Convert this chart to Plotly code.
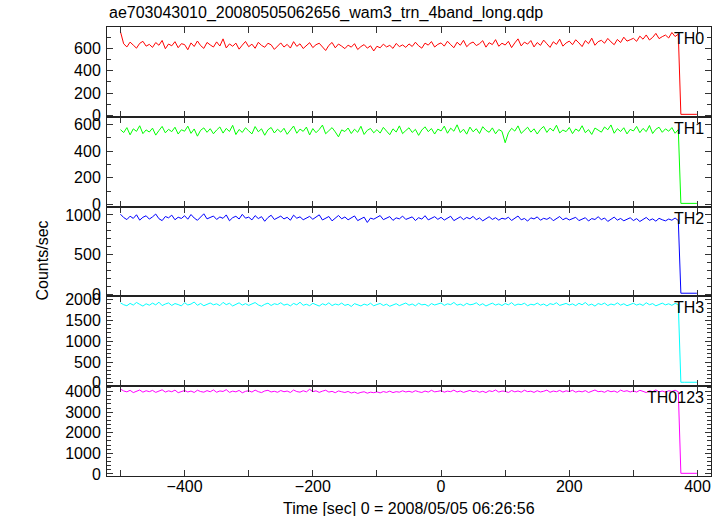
import plotly.graph_objects as go
from plotly.subplots import make_subplots

# ---- data -------------------------------------------------------------
TIME_LIVE = list(range(-500, 371, 5))          # 5-s bins while source active
TIME_TAIL = [374, 380, 390, 399]               # after the drop

TH0 = [748, 640, 612, 655, 628, 601, 644, 662, 619, 635,
       608, 651, 627, 670, 596, 638, 622, 659, 605, 641,
       633, 587, 648, 616, 665, 624, 599, 652, 630, 611,
       657, 620, 684, 603, 639, 618, 646, 592, 628, 661,
       614, 637, 600, 653, 626, 609, 645, 631, 590, 622,
       648, 611, 635, 602, 659, 617, 640, 598, 627, 650,
       606, 632, 645, 613, 580, 626, 652, 604, 638, 619,
       597, 628, 610, 641, 589, 615, 633, 601, 622, 576,
       618, 604, 637, 612, 626, 599, 643, 615, 630, 608,
       639, 616, 654, 622, 601, 646, 628, 660, 611, 635,
       648, 619, 663, 632, 605, 654, 627, 671, 614, 642,
       656, 624, 641, 668, 610, 650, 633, 677, 618, 645,
       629, 662, 606, 648, 684, 621, 655, 637, 669, 612,
       651, 626, 673, 640, 608, 658, 635, 681, 619, 647,
       664, 632, 676, 648, 615, 669, 641, 690, 627, 659,
       671, 645, 688, 657, 632, 679, 651, 699, 664, 676,
       689, 662, 708, 681, 719, 674, 697, 733, 686, 704,
       718, 692, 741, 705, 726]
TH0_TAIL = [10, 10, 10, 10]

TH1 = [560, 538, 575, 521, 566, 547, 589, 530, 558, 542,
       571, 519, 553, 584, 536, 562, 545, 578, 527, 559,
       548, 586, 532, 565, 511, 555, 573, 540, 567, 529,
       557, 580, 534, 569, 546, 592, 523, 561, 539, 574,
       551, 528, 583, 544, 566, 518, 559, 576, 535, 563,
       541, 570, 525, 556, 587, 533, 564, 547, 579, 520,
       568, 537, 561, 594, 529, 552, 575, 543, 506, 558,
       546, 572, 531, 563, 540, 585, 524, 555, 569, 536,
       560, 534, 577, 549, 522, 566, 542, 588, 530, 553,
       574, 539, 562, 517, 557, 581, 545, 568, 527, 564,
       550, 586, 533, 571, 548, 596, 538, 563, 526, 579,
       544, 567, 531, 582, 555, 540, 573, 529, 561, 547,
       462, 536, 570, 549, 588, 532, 559, 578, 541, 566,
       527, 562, 584, 539, 571, 550, 593, 535, 557, 545,
       576, 530, 565, 548, 589, 537, 560, 524, 572, 553,
       541, 580, 559, 595, 533, 567, 546, 574, 528, 562,
       550, 584, 537, 569, 545, 591, 531, 563, 578, 540,
       566, 548, 575, 533, 560]
TH1_TAIL = [8, 8, 8, 8]

TH2 = [1010, 968, 942, 985, 957, 1003, 935, 971, 990, 948,
       976, 1012, 953, 929, 981, 964, 998, 940, 972, 956,
       991, 947, 1006, 962, 933, 979, 1015, 951, 969, 987,
       944, 975, 958, 1001, 927, 966, 984, 949, 1008, 960,
       973, 938, 992, 955, 979, 921, 968, 997, 943, 963,
       986, 950, 971, 934, 998, 959, 977, 940, 965, 982,
       946, 969, 1002, 937, 958, 981, 926, 963, 994, 952,
       975, 939, 960, 988, 929, 954, 973, 906, 961, 947,
       968, 993, 941, 957, 980, 932, 964, 951, 986, 944,
       959, 976, 930, 966, 948, 991, 938, 962, 979, 945,
       971, 936, 958, 984, 929, 955, 977, 942, 969, 952,
       983, 940, 963, 926, 957, 978, 944, 966, 935, 959,
       948, 972, 931, 961, 987, 939, 956, 923, 964, 950,
       976, 934, 958, 945, 969, 928, 953, 981, 940, 962,
       937, 959, 971, 929, 950, 966, 924, 955, 943, 978,
       941, 962, 919, 951, 973, 935, 956, 927, 948, 965,
       930, 954, 918, 946, 969, 933, 951, 922, 958, 940,
       926, 949, 934, 962, 930]
TH2_TAIL = [12, 12, 12, 12]

TH3 = [1925, 1880, 1856, 1912, 1871, 1934, 1889, 1847, 1903, 1868,
       1918, 1876, 1941, 1859, 1897, 1923, 1862, 1908, 1884, 1851,
       1929, 1873, 1896, 1945, 1866, 1910, 1855, 1887, 1921, 1878,
       1902, 1858, 1937, 1881, 1915, 1849, 1893, 1926, 1870, 1906,
       1864, 1899, 1932, 1875, 1843, 1890, 1917, 1861, 1904, 1883,
       1928, 1869, 1895, 1852, 1911, 1877, 1939, 1866, 1892, 1857,
       1914, 1880, 1848, 1903, 1871, 1926, 1859, 1897, 1874, 1919,
       1863, 1889, 1838, 1906, 1872, 1850, 1895, 1867, 1916, 1854,
       1885, 1910, 1861, 1893, 1842, 1879, 1905, 1858, 1887, 1921,
       1868, 1898, 1853, 1915, 1876, 1890, 1845, 1907, 1873, 1896,
       1922, 1864, 1901, 1882, 1935, 1869, 1894, 1857, 1913, 1878,
       1891, 1926, 1866, 1904, 1849, 1886, 1918, 1871, 1899, 1860,
       1909, 1877, 1930, 1862, 1895, 1881, 1916, 1855, 1892, 1874,
       1920, 1868, 1897, 1852, 1906, 1884, 1927, 1863, 1889, 1911,
       1873, 1900, 1858, 1914, 1879, 1933, 1866, 1895, 1847, 1908,
       1882, 1919, 1860, 1897, 1874, 1925, 1869, 1903, 1856, 1890,
       1915, 1871, 1899, 1862, 1928, 1880, 1906, 1853, 1894, 1918,
       1876, 1902, 1865, 1911, 1884]
TH3_TAIL = [15, 15, 15, 15]

TH0123 = [4120, 4030, 3985, 4060, 3950, 4010, 4075, 3970, 4040, 3995,
          4055, 3960, 4020, 4085, 3975, 4035, 3990, 4070, 3945, 4015,
          4050, 3980, 4025, 3955, 4065, 4000, 3970, 4045, 3990, 4080,
          3965, 4030, 4005, 4090, 3960, 4020, 3985, 4055, 3940, 4010,
          4040, 3975, 4070, 3995, 3950, 4030, 4060, 3980, 4015, 3965,
          4050, 3990, 4025, 3955, 4075, 4000, 3970, 4040, 3985, 4110,
          3995, 4035, 3960, 4020, 4065, 3975, 4010, 3945, 4030, 3990,
          3955, 4005, 3930, 3975, 3910, 3960, 3990, 3920, 3970, 3945,
          3985, 3935, 4000, 3960, 4020, 3950, 3995, 3970, 4035, 3980,
          4015, 3965, 4040, 3990, 3955, 4025, 3975, 4060, 3985, 4010,
          4045, 3970, 4020, 3995, 4070, 3980, 4030, 3960, 4005, 4055,
          3990, 4035, 3965, 4015, 3950, 4040, 4000, 4075, 3975, 4025,
          4010, 3955, 4050, 3985, 4030, 3970, 4065, 3995, 4020, 3960,
          4040, 3980, 4015, 4070, 3965, 4025, 3990, 4055, 3975, 4035,
          4000, 4060, 3970, 4020, 3985, 4045, 3955, 4030, 4075, 3995,
          4015, 3965, 4050, 3990, 4025, 3960, 4070, 4005, 4040, 3980,
          4030, 3975, 4060, 4010, 3950, 4045, 3995, 4080, 3985, 4025,
          3970, 4040, 4005, 4065, 3990]
TH0123_TAIL = [30, 30, 30, 30]

NAMES = ["TH0", "TH1", "TH2", "TH3", "TH0123"]
COLORS = ["#ff0000", "#00ff00", "#0000ff", "#00ffff", "#ff00ff"]
SERIES = [(TH0, TH0_TAIL), (TH1, TH1_TAIL), (TH2, TH2_TAIL),
          (TH3, TH3_TAIL), (TH0123, TH0123_TAIL)]
Y_RANGES = [[-12, 790], [-16, 656], [-28, 1106], [-80, 2080], [-100, 4260]]
Y_DTICK = [200, 200, 500, 500, 1000]
Y_MINOR = [100, 100, 100, 100, 200]
X_RANGE = [-521, 421]

TITLE = "ae703043010_20080505062656_wam3_trn_4band_long.qdp"
XTITLE = "Time [sec] 0 = 2008/05/05 06:26:56"
YTITLE = "Counts/sec"

FONT = "Liberation Sans, Arial, Helvetica, sans-serif"

# ---- figure -----------------------------------------------------------
fig = make_subplots(rows=5, cols=1, shared_xaxes=True, vertical_spacing=0)

for i, ((vals, tail), col, name) in enumerate(zip(SERIES, COLORS, NAMES)):
    r = i + 1
    fig.add_trace(go.Scatter(x=TIME_LIVE + TIME_TAIL, y=vals + tail,
                             mode="lines", line=dict(color=col, width=1),
                             showlegend=False, hoverinfo="skip"), row=r, col=1)
    fig.update_yaxes(range=Y_RANGES[i], dtick=Y_DTICK[i], tick0=0,
                     ticks="inside", ticklen=6, tickwidth=1, tickcolor="#333",
                     minor=dict(dtick=Y_MINOR[i], tick0=0, ticks="inside",
                                ticklen=4, tickcolor="#333", showgrid=False),
                     showline=True, linecolor="#222", linewidth=1, mirror="ticks",
                     showgrid=False, zeroline=False, ticklabelstandoff=2,
                     tickfont=dict(size=16, color="#000", family=FONT),
                     row=r, col=1)
    fig.update_xaxes(range=X_RANGE, dtick=200, tick0=0,
                     ticks="inside", ticklen=6, tickwidth=1, tickcolor="#333",
                     minor=dict(dtick=100, tick0=0, ticks="inside", ticklen=6,
                                tickcolor="#333", showgrid=False),
                     showline=True, linecolor="#222", linewidth=1, mirror="ticks",
                     showgrid=False, zeroline=False, ticklabelstandoff=-4,
                     showticklabels=(r == 5),
                     tickfont=dict(size=16, color="#000", family=FONT),
                     row=r, col=1)
    yref = "y domain" if r == 1 else f"y{r} domain"
    xref = "x domain" if r == 1 else f"x{r} domain"
    fig.add_annotation(text=name, xref=xref, yref=yref, x=0.992, y=1,
                       xanchor="right", yanchor="top", yshift=-1,
                       showarrow=False,
                       font=dict(size=16, color="#000", family=FONT))

fig.add_annotation(text=TITLE, xref="paper", yref="paper", x=0, y=1,
                   xanchor="left", yanchor="bottom", yshift=3, showarrow=False,
                   font=dict(size=16, color="#000", family=FONT))
fig.add_annotation(text=XTITLE, xref="paper", yref="paper", x=0.5, y=0,
                   xanchor="center", yanchor="top", yshift=-22, showarrow=False,
                   font=dict(size=16, color="#000", family=FONT))
fig.add_annotation(text=YTITLE, xref="paper", yref="paper", x=0, y=0.48,
                   xanchor="center", yanchor="middle", xshift=-65, textangle=-90,
                   showarrow=False,
                   font=dict(size=16, color="#000", family=FONT))

fig.update_layout(width=724, height=516,
                  margin=dict(l=107, r=13, t=27, b=40),
                  paper_bgcolor="white", plot_bgcolor="white",
                  font=dict(family=FONT, size=16, color="#000"))

fig.write_html("out.html", config={"displayModeBar": False},
               post_script="document.body.style.margin='0';document.body.style.padding='0';")
